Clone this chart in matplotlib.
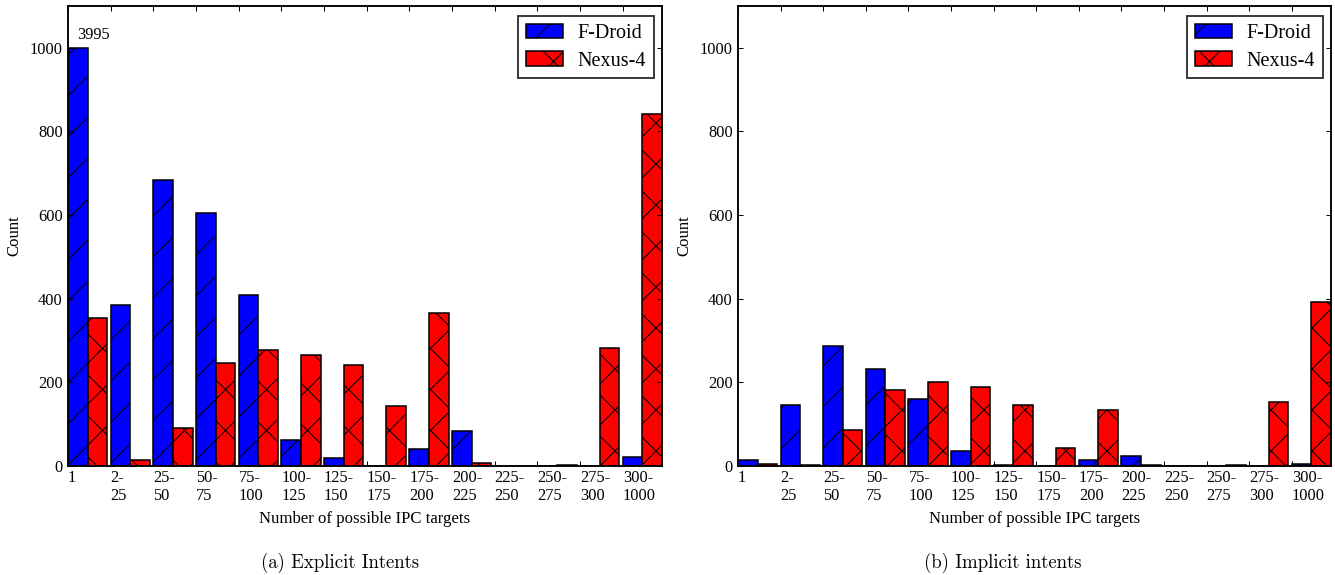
import matplotlib
matplotlib.use("Agg")
import matplotlib.pyplot as plt
import numpy as np

categories = ["1", "2-\n25", "25-\n50", "50-\n75", "75-\n100", "100-\n125", "125-\n150",
              "150-\n175", "175-\n200", "200-\n225", "225-\n250", "250-\n275", "275-\n300", "300-\n1000"]

explicit_fdroid = [3995, 384, 683, 606, 408, 62, 20, 0, 40, 84, 0, 0, 0, 21]
explicit_nexus = [353, 15, 92, 246, 278, 265, 241, 144, 367, 8, 1, 2, 283, 842]
implicit_fdroid = [14, 145, 288, 231, 160, 35, 3, 0, 14, 24, 0, 0, 0, 5]
implicit_nexus = [5, 2, 85, 181, 201, 188, 146, 44, 133, 2, 0, 3, 153, 393]

CAP = 1000  # bars above this are cut and labelled

DPI = 246
plt.rcParams["font.family"] = ["Liberation Serif", "DejaVu Serif"]
plt.rcParams["hatch.linewidth"] = 0.3
plt.rcParams["axes.linewidth"] = 0.55

fig = plt.figure(figsize=(1335 / DPI, 575 / DPI), dpi=DPI)
ax1 = fig.add_axes([68 / 1335, 1 - 466 / 575, 594 / 1335, 460 / 575])
ax2 = fig.add_axes([738 / 1335, 1 - 466 / 575, 593 / 1335, 460 / 575])

def draw(ax, fdroid, nexus):
    x = np.arange(len(categories))
    w = 0.46
    fd = np.minimum(fdroid, CAP)
    nx = np.minimum(nexus, CAP)
    ax.bar(x, fd, w, align="edge", color="#0000ff", edgecolor="black",
           linewidth=0.45, hatch="//", label="F-Droid")
    ax.bar(x + w, nx, w, align="edge", color="#ff0000", edgecolor="black",
           linewidth=0.45, hatch="xx", label="Nexus-4")
    for i, v in enumerate(fdroid):
        if v > CAP:
            ax.text(i + 0.22, CAP + 20, str(v), fontsize=4.8, va="baseline")
    ax.set_xlim(0, len(categories) - 1 + 2 * w)
    ax.set_ylim(0, 1100)
    ax.set_xticks(x)
    ax.set_xticklabels(categories, ha="left", fontsize=4.8, linespacing=1.15)
    ax.set_yticks(range(0, 1001, 200))
    ax.tick_params(axis="y", labelsize=4.8)
    ax.tick_params(direction="in", length=1.5, width=0.3, top=True, right=True, pad=1.5)
    ax.tick_params(axis="x", pad=1.2)
    ax.set_xlabel("Number of possible IPC targets", fontsize=4.9, labelpad=2)
    ax.set_ylabel("Count", fontsize=4.9, labelpad=2.2)
    leg = ax.legend(loc="upper right", bbox_to_anchor=(0.9865, 0.978), borderaxespad=0,
                    fontsize=5.9, fancybox=False, handlelength=1.85, handleheight=0.74,
                    handletextpad=0.74, labelspacing=0.4, borderpad=0.38)
    leg.get_frame().set_edgecolor("black")
    leg.get_frame().set_linewidth(0.55)

draw(ax1, explicit_fdroid, explicit_nexus)
draw(ax2, implicit_fdroid, implicit_nexus)

fig.text(340 / 1335, 1 - 563 / 575, "(a) Explicit Intents", ha="center", va="center",
         fontsize=5.5, fontfamily="cmr10")
fig.text(1003 / 1335, 1 - 563 / 575, "(b) Implicit intents", ha="center", va="center",
         fontsize=5.5, fontfamily="cmr10")

fig.savefig("out.png", dpi=DPI)
